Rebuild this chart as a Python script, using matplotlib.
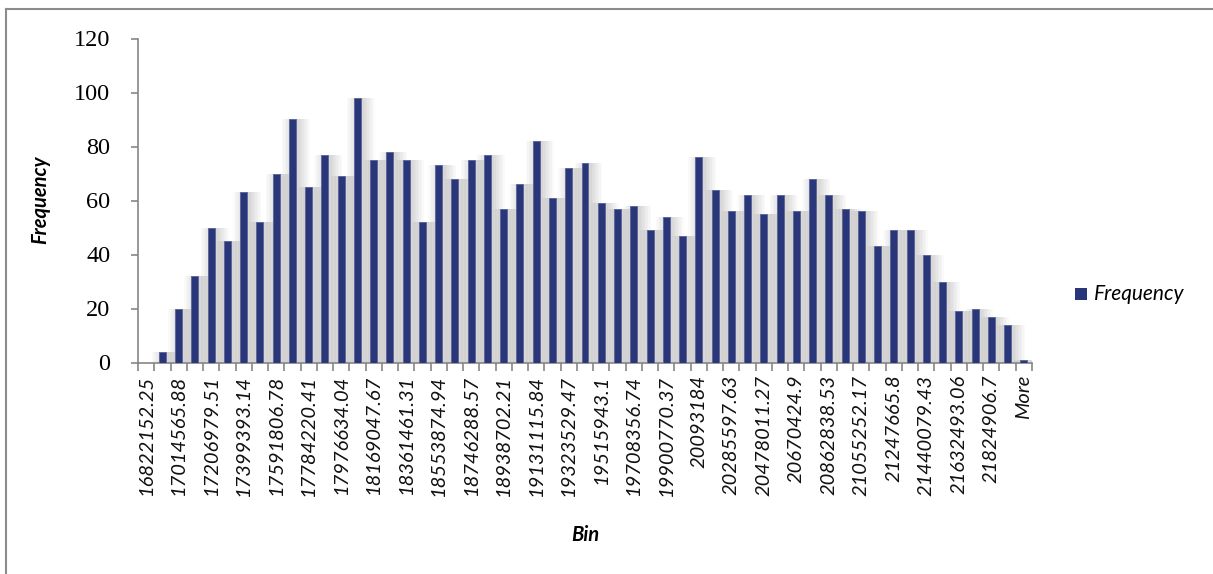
import matplotlib
matplotlib.use("Agg")
import matplotlib.pyplot as plt
from matplotlib.patches import Rectangle
import numpy as np

# Histogram bins (upper edges) and counts
bin_labels = [
    "16822152.25", "16918359.07", "17014565.88", "17110772.7", "17206979.51",
    "17303186.33", "17399393.14", "17495599.96", "17591806.78", "17688013.59",
    "17784220.41", "17880427.22", "17976634.04", "18072840.86", "18169047.67",
    "18265254.49", "18361461.31", "18457668.12", "18553874.94", "18650081.75",
    "18746288.57", "18842495.39", "18938702.21", "19034909.02", "19131115.84",
    "19227322.65", "19323529.47", "19419736.29", "19515943.1", "19612149.92",
    "19708356.74", "19804563.55", "19900770.37", "19996977.18", "20093184",
    "20189390.82", "20285597.63", "20381804.45", "20478011.27", "20574218.08",
    "20670424.9", "20766631.71", "20862838.53", "20959045.35", "21055252.17",
    "21151458.98", "21247665.8", "21343872.61", "21440079.43", "21536286.25",
    "21632493.06", "21728699.88", "21824906.7", "21921113.51", "More",
]
frequency = [
    0, 4, 20, 32, 50, 45, 63, 52, 70, 90,
    65, 77, 69, 98, 75, 78, 75, 52, 73, 68,
    75, 77, 57, 66, 82, 61, 72, 74, 59, 57,
    58, 49, 54, 47, 76, 64, 56, 62, 55, 62,
    56, 68, 62, 57, 56, 43, 49, 49, 40, 30,
    19, 20, 17, 14, 1,
]
y_ticks = [0, 20, 40, 60, 80, 100, 120]

BAR_COLOR = "#29367a"
AXIS_COLOR = "#868686"

W, H = 1213, 574
fig = plt.figure(figsize=(W / 100, H / 100), dpi=100)
ax = fig.add_axes([138 / W, 1 - 362.5 / H, (1032 - 138) / W, (362.5 - 38.5) / H])

n = len(frequency)
x = np.arange(n) + 0.5
bar_w = 0.43
px = 1 / 16.25  # one pixel in category units

# soft drop shadow behind each bar
for k in range(8):
    grow = k * 1.5 * px
    ax.bar(x + 3.5 * px, frequency, width=bar_w + 2 * grow,
           color="#000000", alpha=0.019, linewidth=0, zorder=1)

ax.bar(x, frequency, width=bar_w, color=BAR_COLOR, edgecolor="#5a6496",
       linewidth=0.6, zorder=3, label="Frequency")

ax.set_xlim(0, n)
ax.set_ylim(0, 120)

# axes styling
for side in ("top", "right"):
    ax.spines[side].set_visible(False)
for side in ("left", "bottom"):
    ax.spines[side].set_color(AXIS_COLOR)
    ax.spines[side].set_linewidth(1.2)

ax.set_yticks(y_ticks)
ax.set_yticklabels([str(v) for v in y_ticks], fontfamily="Liberation Serif",
                   fontsize=17.5)
ax.tick_params(axis="y", direction="out", length=5, width=1.2,
               color=AXIS_COLOR, pad=15)

ax.set_xticks(np.arange(n + 1))
ax.set_xticklabels([])
ax.tick_params(axis="x", direction="out", length=6, width=1.2,
               color=AXIS_COLOR)

# category labels on every other bin
for i in range(0, n, 2):
    ax.text(x[i], -4.5, bin_labels[i], rotation=90, ha="center", va="top",
            fontfamily="Lato", fontstyle="italic", fontsize=14.5,
            color="#111111")

fig.text(585 / W, 1 - 535 / H, "Bin", ha="center", va="center",
         fontfamily="Lato", fontstyle="italic", fontweight="bold",
         fontsize=14.5)
fig.text(40 / W, 1 - 200 / H, "Frequency", ha="center", va="center",
         rotation=90, fontfamily="Lato", fontstyle="italic",
         fontweight="bold", fontsize=14.5)

# legend
fig.patches.append(Rectangle((1075 / W, 1 - 300 / H), 12 / W, 12 / H,
                             transform=fig.transFigure, facecolor=BAR_COLOR,
                             edgecolor="none"))
fig.text(1094 / W, 1 - 294 / H, "Frequency", ha="left", va="center",
         fontfamily="Lato", fontstyle="italic", fontsize=15)

# chart area border (top and left edges)
fig.add_artist(plt.Line2D([6 / W, 6 / W], [0, 1 - 9 / H],
                          transform=fig.transFigure, color="#8c8c8c", lw=1.5))
fig.add_artist(plt.Line2D([6 / W, 1], [1 - 9 / H, 1 - 9 / H],
                          transform=fig.transFigure, color="#8c8c8c", lw=1.5))

fig.savefig("out.png", dpi=100, facecolor="white")
